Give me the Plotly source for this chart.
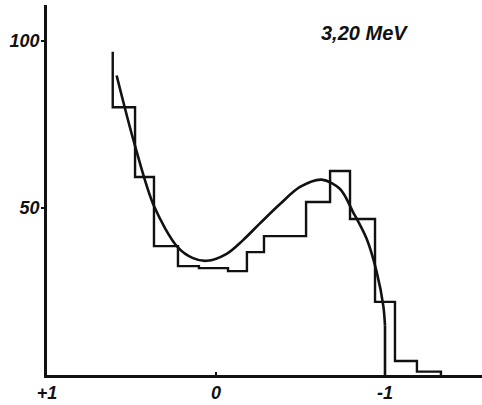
import plotly.graph_objects as go

# Histogram: bin edges (axis units, running from +1 towards -1) and counts
bin_edges = [0.611, 0.479, 0.367, 0.225, 0.101, -0.071, -0.183, -0.284,
             -0.533, -0.675, -0.793, -0.941, -1.059, -1.189, -1.331]
bin_counts = [80.2, 59.3, 38.6, 32.6, 32.0, 31.1, 36.8, 41.6,
              51.8, 61.1, 46.7, 21.9, 4.2, 1.0]
start_level = 96.8

# Fitted curve
curve_x = [0.588, 0.479, 0.367, 0.227, 0.136, 0.055, -0.063, -0.16, -0.26,
           -0.379, -0.497, -0.625, -0.734, -0.811, -0.892, -0.951, -0.99, -1.0]
curve_y = [89.7, 68.6, 50.6, 38.3, 35.0, 34.2, 36.3, 40.4, 45.4,
           51.2, 56.3, 58.5, 55.7, 48.8, 40.7, 30.8, 20.7, 14.8]
curve_end = [-1.0, 0.0]

x_ticks = [1, 0, -1]
x_tick_text = ["+1", "0", "-1"]
y_ticks = [50, 100]
y_tick_text = ["50", "100"]
label = "3,20 MeV"

# Build the step outline of the histogram
hx, hy = [bin_edges[0]], [start_level]
for i, c in enumerate(bin_counts):
    hx += [bin_edges[i], bin_edges[i + 1]]
    hy += [c, c]
hx.append(bin_edges[-1])
hy.append(0)

ink = "#111111"
fig = go.Figure()
fig.add_trace(go.Scatter(x=hx, y=hy, mode="lines",
                         line=dict(color=ink, width=2.4), hoverinfo="skip"))
fig.add_trace(go.Scatter(x=curve_x, y=curve_y, mode="lines",
                         line=dict(color=ink, width=2.6, shape="spline", smoothing=0.9),
                         hoverinfo="skip"))
fig.add_trace(go.Scatter(x=[curve_x[-1], curve_end[0]], y=[curve_y[-1], curve_end[1]],
                         mode="lines", line=dict(color=ink, width=2.6), hoverinfo="skip"))

tick_font = dict(family="Liberation Sans", size=18, color=ink,
                 style="italic", weight="bold")
fig.update_layout(
    width=482, height=405,
    margin=dict(l=47, r=0, t=5, b=30),
    paper_bgcolor="white", plot_bgcolor="white",
    showlegend=False,
    xaxis=dict(range=[1, -1.574], showgrid=False, zeroline=False,
               showline=True, linecolor=ink, linewidth=2.5,
               tickmode="array", tickvals=x_ticks, ticktext=x_tick_text,
               ticks="inside", ticklen=3, tickwidth=1.5, tickcolor=ink,
               tickfont=tick_font),
    yaxis=dict(range=[0, 110.8], showgrid=False, zeroline=False,
               showline=True, linecolor=ink, linewidth=2.5,
               tickmode="array", tickvals=y_ticks, ticktext=y_tick_text,
               ticks="outside", ticklen=3, tickwidth=1.5, tickcolor=ink,
               ticklabelstandoff=-2, tickfont=tick_font),
)
# label placed in pixel terms relative to the plot area
pw, ph = 482 - 47, 405 - 5 - 30
fig.add_annotation(text=label, x=(364 - 47) / pw, y=1 - (33 - 5) / ph,
                   xref="paper", yref="paper", xanchor="center", yanchor="middle",
                   showarrow=False,
                   font=dict(family="Liberation Sans", size=20, color=ink,
                             style="italic", weight="bold"))

fig.write_html("out.html")
